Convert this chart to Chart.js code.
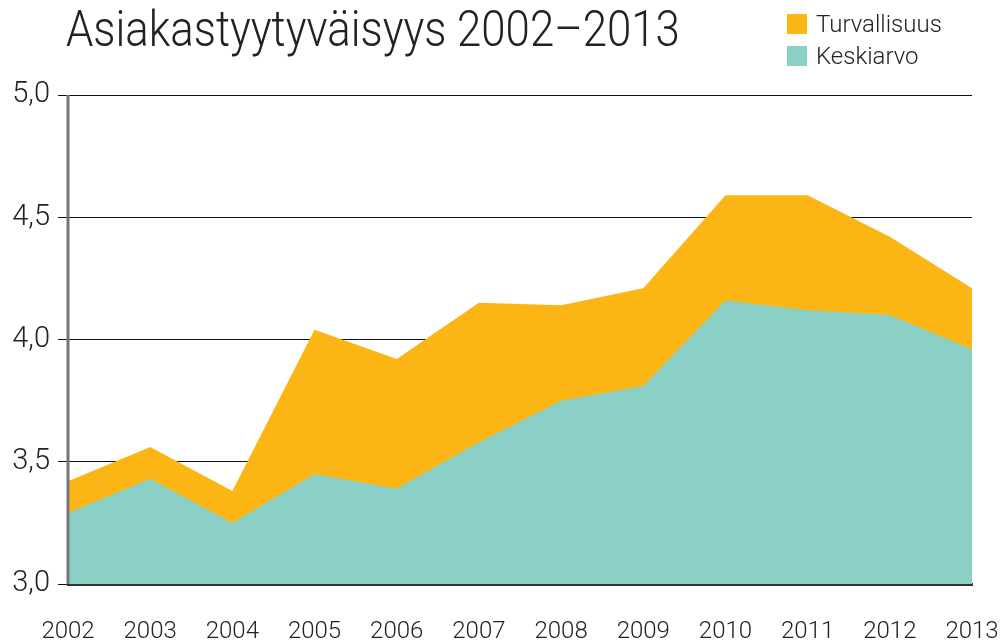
<!DOCTYPE html>
<html>
<head>
<meta charset="utf-8">
<script src="https://cdn.jsdelivr.net/npm/chart.js@4"></script>
<style>
  html, body { margin: 0; padding: 0; background: #fff; }
  #wrap { position: relative; width: 1000px; height: 641px; font-family: Roboto, sans-serif; color: #222; }
  #title { position: absolute; left: 66px; top: 2px; font-size: 50px; font-weight: 300; line-height: 1.1; white-space: nowrap; transform: scaleX(0.875); transform-origin: left top; }
  #legend { position: absolute; left: 787px; top: 8px; font-size: 24px; font-weight: 300; }
  .item { display: flex; align-items: center; height: 32px; }
  .box { width: 20px; height: 20px; margin-right: 9px; }
  canvas { position: absolute; left: 0; top: 0; }
</style>
</head>
<body>
<div id="wrap">
  <canvas id="chart" width="1000" height="641"></canvas>
  <div id="title">Asiakastyytyväisyys 2002–2013</div>
  <div id="legend">
    <div class="item"><div class="box" style="background:#fbb615"></div>Turvallisuus</div>
    <div class="item"><div class="box" style="background:#8ad0c7"></div>Keskiarvo</div>
  </div>
</div>
<script>
const years = ["2002", "2003", "2004", "2005", "2006", "2007", "2008", "2009", "2010", "2011", "2012", "2013"];
const turvallisuus = [3.42, 3.56, 3.38, 4.04, 3.92, 4.15, 4.14, 4.21, 4.59, 4.59, 4.42, 4.21];
const keskiarvo = [3.29, 3.43, 3.25, 3.45, 3.39, 3.58, 3.75, 3.81, 4.16, 4.12, 4.10, 3.96];
const yTicks = [3.0, 3.5, 4.0, 4.5, 5.0];

// left axis line drawn over the filled areas
const leftAxis = {
  id: "leftAxis",
  afterDatasetsDraw(chart) {
    const a = chart.chartArea, c = chart.ctx;
    c.save();
    c.strokeStyle = "#777";
    c.lineWidth = 3;
    c.beginPath();
    c.moveTo(a.left, a.top);
    c.lineTo(a.left, a.bottom);
    c.stroke();
    c.restore();
  }
};

const ctx = document.getElementById("chart").getContext("2d");
new Chart(ctx, {
  type: "line",
  data: {
    labels: years,
    datasets: [
      // first dataset is drawn on top
      { label: "Keskiarvo", data: keskiarvo, backgroundColor: "#8ad0c7", fill: "start", borderWidth: 0, pointRadius: 0, tension: 0 },
      { label: "Turvallisuus", data: turvallisuus, backgroundColor: "#fbb615", fill: "start", borderWidth: 0, pointRadius: 0, tension: 0 }
    ]
  },
  options: {
    responsive: false,
    animation: false,
    layout: { padding: { top: 95, right: 28, left: 0, bottom: 0 } },
    plugins: { legend: { display: false }, tooltip: { enabled: false } },
    scales: {
      x: {
        offset: false,
        z: 1,
        grid: { display: false },
        border: { display: true, color: "#333", width: 3 },
        ticks: { color: "#222", font: { family: "Roboto", size: 24, weight: 300 }, padding: 26, maxRotation: 0, autoSkip: false },
        afterFit: (s) => { s.height = 57; s.paddingLeft = 0; s.paddingRight = 0; }
      },
      y: {
        min: 3, max: 5,
        afterBuildTicks: (s) => { s.ticks = yTicks.map(v => ({ value: v })); },
        grid: { color: "#111", lineWidth: 1, tickLength: 10 },
        border: { display: false },
        ticks: { color: "#222", font: { family: "Roboto", size: 29, weight: 300 }, padding: 8,
          callback: (v) => v.toFixed(1).replace(".", ",") },
        afterFit: (s) => { s.width = 68; }
      }
    }
  },
  plugins: [leftAxis]
});
</script>
</body>
</html>
